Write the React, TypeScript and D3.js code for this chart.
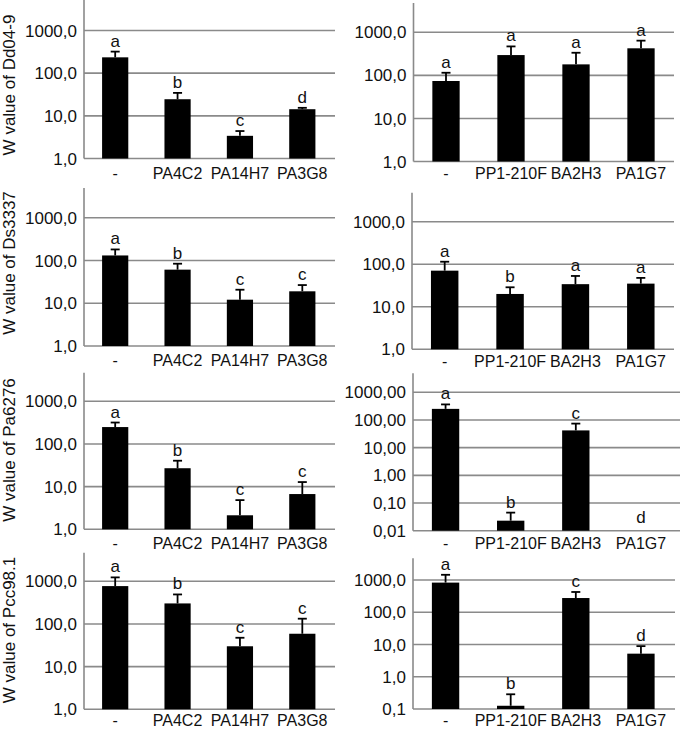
import React from "react";
import * as d3 from "d3";

// ---------- data ----------
const leftGroups = ["-", "PA4C2", "PA14H7", "PA3G8"];
const rightGroups = ["-", "PP1-210F", "BA2H3", "PA1G7"];

const dd049Left = [235, 24.5, 3.4, 14.3];
const dd049LeftErr = [85, 10, 1.0, 1.1];
const dd049LeftLetters = ["a", "b", "c", "d"];
const dd049Right = [74, 296, 180, 425];
const dd049RightErr = [41, 174, 155, 215];
const dd049RightLetters = ["a", "a", "a", "a"];

const ds3337Left = [131, 61, 12.1, 19];
const ds3337LeftErr = [50, 23, 8.6, 7.6];
const ds3337LeftLetters = ["a", "b", "c", "c"];
const ds3337Right = [70.6, 20, 34, 35];
const ds3337RightErr = [44, 8.7, 19, 12.7];
const ds3337RightLetters = ["a", "b", "a", "a"];

const pa6276Left = [249, 27, 2.13, 6.7];
const pa6276LeftErr = [69, 13.5, 2.7, 6.1];
const pa6276LeftLetters = ["a", "b", "c", "c"];
const pa6276Right = [252, 0.023, 42, null];
const pa6276RightErr = [113, 0.022, 32, null];
const pa6276RightLetters = ["a", "b", "c", "d"];

const pcc981Left = [772, 303, 30, 59];
const pcc981LeftErr = [463, 189, 17.5, 74];
const pcc981LeftLetters = ["a", "b", "c", "c"];
const pcc981Right = [830, 0.126, 276, 5.2];
const pcc981RightErr = [620, 0.16, 149, 3.7];
const pcc981RightLetters = ["a", "b", "c", "d"];

const ticksOneDecimal = [1, 10, 100, 1000];
const ticksTwoDecimals = [0.01, 0.1, 1, 10, 100, 1000];
const ticksPcc = [0.1, 1, 10, 100, 1000];

// ---------- layout ----------
const FONT = "'Liberation Sans', Arial, Helvetica, sans-serif";
const GRID = "#8a8a8a";
const FS = 17;
const FS_X = 16;

type Panel = {
  title?: string;
  groups: string[];
  values: (number | null)[];
  errs: (number | null)[];
  letters: string[];
  ticks: number[];
  decimals: number;
  x0: number;
  x1: number;
  gridRight: number;
  yBase: number;
  y1000: number;
  top: number;
  titleY?: number;
  labelDy: number;
};

const LX0 = 84, LX1 = 333.5, RX0 = 413.5, RX1 = 673.5;

const panels: Panel[] = [
  { title: "W value of Dd04-9", groups: leftGroups, values: dd049Left, errs: dd049LeftErr, letters: dd049LeftLetters, ticks: ticksOneDecimal, decimals: 1, x0: LX0, x1: LX1, gridRight: 335, yBase: 158.5, y1000: 30.5, top: 0, titleY: 85, labelDy: 20 },
  { groups: rightGroups, values: dd049Right, errs: dd049RightErr, letters: dd049RightLetters, ticks: ticksOneDecimal, decimals: 1, x0: RX0, x1: RX1, gridRight: 674, yBase: 161.5, y1000: 32.3, top: 3, labelDy: 17.5 },
  { title: "W value of Ds3337", groups: leftGroups, values: ds3337Left, errs: ds3337LeftErr, letters: ds3337LeftLetters, ticks: ticksOneDecimal, decimals: 1, x0: LX0, x1: LX1, gridRight: 335, yBase: 346, y1000: 217.7, top: 188, titleY: 263, labelDy: 20 },
  { groups: rightGroups, values: ds3337Right, errs: ds3337RightErr, letters: ds3337RightLetters, ticks: ticksOneDecimal, decimals: 1, x0: RX0 - 1.5, x1: RX1, gridRight: 674, yBase: 349.3, y1000: 221.7, top: 192.7, labelDy: 18 },
  { title: "W value of Pa6276", groups: leftGroups, values: pa6276Left, errs: pa6276LeftErr, letters: pa6276LeftLetters, ticks: ticksOneDecimal, decimals: 1, x0: LX0, x1: LX1, gridRight: 335, yBase: 529.3, y1000: 401.3, top: 372.7, titleY: 450, labelDy: 20 },
  { groups: rightGroups, values: pa6276Right, errs: pa6276RightErr, letters: pa6276RightLetters, ticks: ticksTwoDecimals, decimals: 2, x0: RX0 - 0.5, x1: RX1, gridRight: 680, yBase: 530.7, y1000: 392.3, top: 373.3, labelDy: 18 },
  { title: "W value of Pcc98.1", groups: leftGroups, values: pcc981Left, errs: pcc981LeftErr, letters: pcc981LeftLetters, ticks: ticksOneDecimal, decimals: 1, x0: LX0, x1: LX1, gridRight: 335, yBase: 709.3, y1000: 581.3, top: 552.7, titleY: 630, labelDy: 17 },
  { groups: rightGroups, values: pcc981Right, errs: pcc981RightErr, letters: pcc981RightLetters, ticks: ticksPcc, decimals: 1, x0: RX0 - 0.5, x1: RX1, gridRight: 675, yBase: 709, y1000: 580, top: 558.3, labelDy: 17 },
];

const fmt = (v: number, d: number) => v.toFixed(d).replace(".", ",");

function PanelView({ p }: { p: Panel }) {
  const dMin = p.ticks[0];
  const y = d3.scaleLog().domain([dMin, 1000]).range([p.yBase, p.y1000]);
  const x = d3.scaleBand<string>().domain(p.groups).range([p.x0, p.x1]).padding(0);
  const barW = x.step() * 0.42;
  const capW = 9;
  return (
    <g>
      {p.ticks.map((t) => (
        <g key={t}>
          {t !== dMin && (
            <line x1={p.x0} x2={p.gridRight} y1={y(t)} y2={y(t)} stroke={GRID} strokeWidth={1.6} />
          )}
          <text x={p.x0 - 7} y={y(t)} dy="0.36em" textAnchor="end" fontSize={FS} fontFamily={FONT} fill="#111">
            {fmt(t, p.decimals)}
          </text>
        </g>
      ))}
      <line x1={p.x0} x2={p.gridRight} y1={p.yBase} y2={p.yBase} stroke={GRID} strokeWidth={1.6} />
      <line x1={p.x0} x2={p.x0} y1={p.top} y2={p.yBase} stroke={GRID} strokeWidth={1.6} />
      {p.groups.map((g, i) => {
        const cx = (x(g) as number) + x.step() / 2;
        const v = p.values[i];
        const e = p.errs[i];
        const hasBar = v !== null && v !== undefined;
        const top = hasBar ? y(v as number) : p.yBase;
        const errTop = hasBar ? y((v as number) + (e as number)) : p.yBase;
        const letterY = hasBar ? errTop - 5 : p.yBase - 8;
        return (
          <g key={g}>
            {hasBar && (
              <>
                <line x1={cx} x2={cx} y1={top} y2={errTop} stroke="#000" strokeWidth={1.8} />
                <line x1={cx - capW / 2} x2={cx + capW / 2} y1={errTop} y2={errTop} stroke="#000" strokeWidth={1.8} />
                <rect x={cx - barW / 2} y={top} width={barW} height={p.yBase - top} fill="#000" />
              </>
            )}
            <text x={cx} y={letterY} textAnchor="middle" fontSize={FS} fontFamily={FONT} fill="#111">
              {p.letters[i]}
            </text>
            <text x={cx} y={p.yBase + p.labelDy} textAnchor="middle" fontSize={FS_X} fontFamily={FONT} fill="#111">
              {g}
            </text>
          </g>
        );
      })}
      {p.title && (
        <text
          transform={`translate(14.5,${p.titleY}) rotate(-90)`}
          textAnchor="middle"
          fontSize={FS}
          fontFamily={FONT}
          fill="#111"
        >
          {p.title}
        </text>
      )}
    </g>
  );
}

export default function App() {
  return (
    <svg
      width={680}
      height={730}
      style={{ position: "absolute", left: 0, top: 0, background: "#fff" }}
    >
      <rect width={680} height={730} fill="#fff" />
      {panels.map((p, i) => (
        <PanelView key={i} p={p} />
      ))}
    </svg>
  );
}
